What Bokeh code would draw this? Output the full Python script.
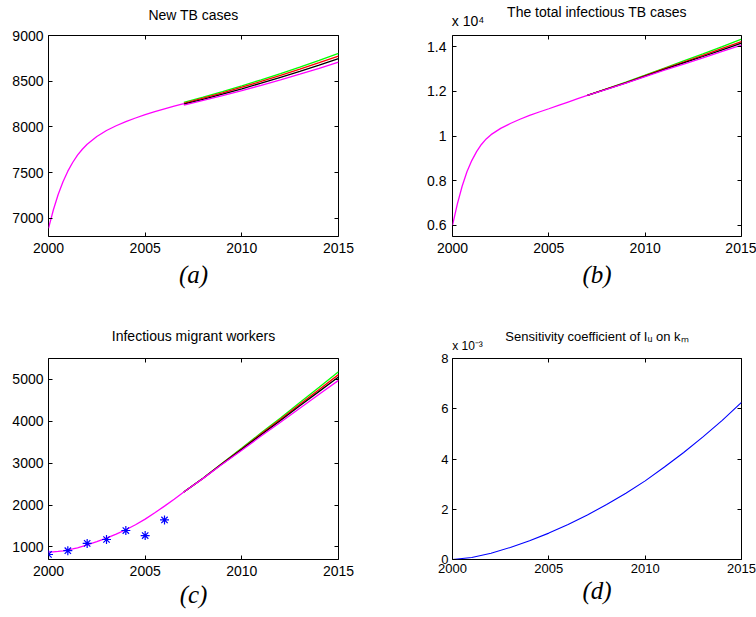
from bokeh.plotting import figure
from bokeh.models import Range1d, FixedTicker, LinearAxis, CustomJSTickFormatter
from bokeh.layouts import gridplot
from bokeh.embed import file_html
from bokeh.resources import INLINE

# ---------------- data ----------------
X_TICKS = [2000, 2005, 2010, 2015]

YEARS_EARLY = [2000, 2000.25, 2000.5, 2000.75, 2001, 2001.25, 2001.5, 2001.75, 2002,
               2002.5, 2003, 2003.5, 2004, 2004.5, 2005, 2005.5, 2006, 2006.5, 2007]
YEARS_LATE = [2007, 2008, 2009, 2010, 2011, 2012, 2013, 2014, 2015]

# (a) New TB cases
NEW_TB_EARLY = [6890, 7090, 7260, 7400, 7515, 7610, 7690, 7755, 7810, 7895, 7960,
                8012, 8057, 8097, 8133, 8166, 8197, 8226, 8255]
NEW_TB_GREEN = [8268, 8326, 8386, 8449, 8515, 8583, 8654, 8728, 8804]
NEW_TB_RED = [8258, 8314, 8373, 8434, 8497, 8563, 8631, 8702, 8775]
NEW_TB_BLACK = [8248, 8302, 8358, 8417, 8478, 8542, 8607, 8675, 8746]
NEW_TB_MAGENTA = [8238, 8289, 8342, 8397, 8455, 8515, 8577, 8641, 8708]
NEW_TB_YTICKS = [7000, 7500, 8000, 8500, 9000]

# (b) total infectious TB cases
TOTAL_EARLY = [6000, 6950, 7750, 8400, 8900, 9300, 9620, 9870, 10060, 10340, 10560,
               10750, 10920, 11075, 11220, 11370, 11520, 11670, 11820]
TOTAL_GREEN = [11820, 12115, 12410, 12725, 13045, 13360, 13675, 14005, 14340]
TOTAL_RED = [11820, 12107, 12394, 12702, 13012, 13312, 13612, 13922, 14230]
TOTAL_BLACK = [11820, 12100, 12380, 12680, 12980, 13270, 13560, 13860, 14160]
TOTAL_MAGENTA = [11820, 12092, 12364, 12655, 12945, 13220, 13500, 13785, 14070]
TOTAL_YTICKS = [6000, 8000, 10000, 12000, 14000]

# (c) infectious migrant workers
MIGRANT_EARLY = [880, 884, 893, 907, 928, 952, 980, 1012, 1048, 1125, 1210, 1305,
                 1410, 1530, 1665, 1815, 1975, 2140, 2310]
MIGRANT_GREEN = [2310, 2645, 3005, 3360, 3725, 4080, 4450, 4815, 5185]
MIGRANT_RED = [2310, 2642, 2997, 3343, 3700, 4048, 4407, 4761, 5115]
MIGRANT_BLACK = [2310, 2640, 2990, 3330, 3680, 4020, 4370, 4715, 5060]
MIGRANT_MAGENTA = [2310, 2637, 2980, 3310, 3648, 3976, 4314, 4645, 4977]
REPORTED_YEARS = [2000, 2001, 2002, 2003, 2004, 2005, 2006]
REPORTED_CASES = [820, 910, 1085, 1178, 1392, 1272, 1646]
MIGRANT_YTICKS = [1000, 2000, 3000, 4000, 5000]

# (d) sensitivity coefficient (in units of 10^-3)
SENS_YEARS = list(range(2000, 2016))
SENS_VALUES = [0, 0.08, 0.25, 0.48, 0.75, 1.05, 1.39, 1.77, 2.19, 2.64, 3.13, 3.68,
               4.26, 4.88, 5.54, 6.25]
SENS_YTICKS = [0, 2, 4, 6, 8]

FONT = "Liberation Sans"
SERIF = "Liberation Serif"
GREEN, RED, BLACK, MAGENTA, BLUE = "#00ff00", "#ff0000", "#000000", "#ff00ff", "#0000ff"

EMPTY = "return '';"


def style_axis(ax, ticks, size):
    ax.ticker = FixedTicker(ticks=ticks)
    ax.axis_line_color = None
    ax.major_tick_in = 4
    ax.major_tick_out = 0
    ax.minor_tick_in = 0
    ax.minor_tick_out = 0
    ax.major_tick_line_color = "black"
    ax.major_tick_line_width = 1
    ax.major_label_text_font = FONT
    ax.major_label_text_color = "black"
    ax.major_label_text_font_size = size


def make_panel(width, height, frame, xr, yr, yticks, tick_size, x_standoff, y_standoff,
               title, title_size, title_standoff, sub_label, sub_standoff,
               top_code=EMPTY, top_size="1px", top_standoff=0):
    L, R, T, B = frame
    p = figure(width=width, height=height, x_range=Range1d(*xr), y_range=Range1d(*yr),
               output_backend="svg", toolbar_location=None,
               x_axis_location="below", y_axis_location="left",
               min_border_left=L, min_border_right=width - R,
               min_border_top=T, min_border_bottom=height - B)
    p.xgrid.visible = False
    p.ygrid.visible = False
    p.background_fill_color = "white"
    p.border_fill_color = "white"
    p.outline_line_color = "black"
    p.outline_line_width = 1
    p.outline_line_alpha = 1

    bottom = p.below[0]
    left = p.left[0]
    top = LinearAxis()
    right = LinearAxis()
    p.add_layout(top, "above")
    p.add_layout(right, "right")

    style_axis(bottom, X_TICKS, tick_size)
    style_axis(left, yticks, tick_size)
    style_axis(top, X_TICKS, top_size)
    style_axis(right, yticks, "1px")

    bottom.major_label_standoff = x_standoff
    left.major_label_standoff = y_standoff

    right.formatter = CustomJSTickFormatter(code=EMPTY)
    right.major_label_standoff = 0

    top.formatter = CustomJSTickFormatter(code=top_code)
    top.major_label_standoff = top_standoff
    top.axis_label = title
    top.axis_label_text_font = FONT
    top.axis_label_text_font_style = "normal"
    top.axis_label_text_font_size = title_size
    top.axis_label_text_color = "black"
    top.axis_label_standoff = title_standoff

    bottom.axis_label = sub_label
    bottom.axis_label_text_font = SERIF
    bottom.axis_label_text_font_style = "italic"
    bottom.axis_label_text_font_size = "25px"
    bottom.axis_label_text_color = "black"
    bottom.axis_label_standoff = sub_standoff
    return p


LW = 1.3

# ---------------- (a) ----------------
pa = make_panel(378, 300, (48, 338, 31, 236), (2000, 2015), (6800, 9000),
                NEW_TB_YTICKS, "14px", 6, 5,
                "New TB cases", "14px", 13, "(a)", 5)
for ys, c in ((NEW_TB_GREEN, GREEN), (NEW_TB_RED, RED), (NEW_TB_BLACK, BLACK), (NEW_TB_MAGENTA, MAGENTA)):
    pa.line(YEARS_LATE, ys, line_color=c, line_width=LW)
pa.line(YEARS_EARLY, NEW_TB_EARLY, line_color=MAGENTA, line_width=LW)

# ---------------- (b) ----------------
scale_b = "return tick == 2000 ? '" + "\\u00a0" * 8 + "x 10\\u2074' : '';"
pb = make_panel(378, 300, (74, 363, 32, 236), (2000, 2015), (5500, 14500),
                TOTAL_YTICKS, "14px", 6, 6,
                "The total infectious TB cases", "14px", -10, "(b)", 5,
                top_code=scale_b, top_size="14px", top_standoff=7)
pb.left[0].formatter = CustomJSTickFormatter(code="return String(tick / 10000);")
for ys, c in ((TOTAL_GREEN, GREEN), (TOTAL_RED, RED), (TOTAL_BLACK, BLACK), (TOTAL_MAGENTA, MAGENTA)):
    pb.line(YEARS_LATE, ys, line_color=c, line_width=LW)
pb.line(YEARS_EARLY, TOTAL_EARLY, line_color=MAGENTA, line_width=LW)

# ---------------- (c) ----------------
pc = make_panel(378, 317, (48, 338, 52, 259), (2000, 2015), (700, 5500),
                MIGRANT_YTICKS, "14px", 6, 5,
                "Infectious migrant workers", "14px", 15, "(c)", 2)
for ys, c in ((MIGRANT_GREEN, GREEN), (MIGRANT_RED, RED), (MIGRANT_BLACK, BLACK), (MIGRANT_MAGENTA, MAGENTA)):
    pc.line(YEARS_LATE, ys, line_color=c, line_width=LW)
pc.line(YEARS_EARLY, MIGRANT_EARLY, line_color=MAGENTA, line_width=LW)
pc.scatter(REPORTED_YEARS, REPORTED_CASES, marker="asterisk", size=9,
           line_color=BLUE, line_width=1.2)

# ---------------- (d) ----------------
scale_d = "return tick == 2000 ? '" + "\\u00a0" * 9 + "x 10\\u207b\\u00b3' : '';"
pd_ = make_panel(378, 317, (74, 363, 58, 260), (2000, 2015), (0, 8),
                 SENS_YTICKS, "13px", 4, 4,
                 "Sensitivity coefficient of I\u1d64 on k\u2098", "13px", -8, "(d)", 1,
                 top_code=scale_d, top_size="12px", top_standoff=6)
pd_.line(SENS_YEARS, SENS_VALUES, line_color=BLUE, line_width=1.1)

grid = gridplot([[pa, pb], [pc, pd_]], toolbar_location=None)
open("out.html", "w", encoding="utf-8").write(file_html(grid, INLINE))
